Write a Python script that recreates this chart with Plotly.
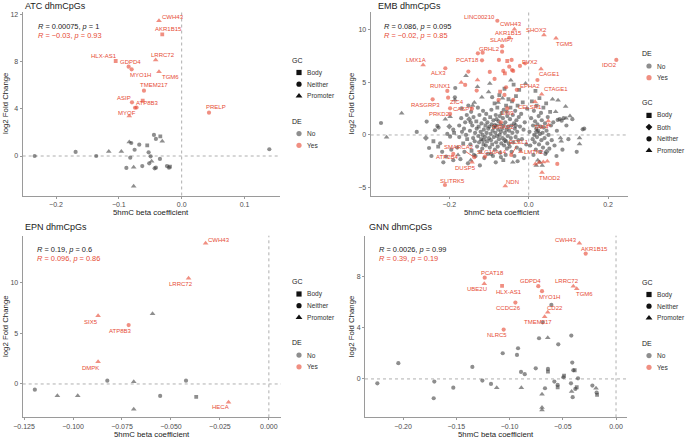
import plotly.graph_objects as go

W, H = 685, 438
FONT = "Liberation Sans, Arial, sans-serif"
RED_TXT = "#E64B35"
RED_PT = "rgba(230,75,53,0.62)"
GREY_PT = "rgba(60,60,60,0.58)"
SYMBOL = {"Body": "square", "Both": "diamond", "Neither": "circle", "Promoter": "triangle-up"}
SIZE = {"Body": 3.8, "Both": 4.6, "Neither": 4.2, "Promoter": 5.0}

# ------------------------------------------------------------------ data
# correlation texts (all DE / DE only)
ATC_R = ("<i>R</i> = 0.00075, <i>p</i> = 1", "<i>R</i> = \u22120.03, <i>p</i> = 0.93")
EMB_R = ("<i>R</i> = 0.086, <i>p</i> = 0.095", "<i>R</i> = \u22120.02, <i>p</i> = 0.85")
EPN_R = ("<i>R</i> = 0.19, <i>p</i> = 0.6", "<i>R</i> = 0.096, <i>p</i> = 0.86")
GNN_R = ("<i>R</i> = 0.0026, <i>p</i> = 0.99", "<i>R</i> = 0.39, <i>p</i> = 0.19")

# ---- ATC
ATC_YES_X = [-0.0361, -0.0309, -0.0414, -0.105, -0.0844, -0.0796, -0.0361, -0.060, -0.0791, -0.0742, -0.0834, 0.0435, -0.0718, -0.0620]
ATC_YES_Y = [11.44, 10.29, 8.11, 8.03, 7.55, 7.33, 7.13, 5.52, 4.54, 4.08, 3.38, 3.66, 4.10, 4.67]
ATC_YES_GC = ["Promoter", "Body", "Promoter", "Body", "Neither", "Neither", "Promoter", "Neither",
              "Neither", "Neither", "Promoter", "Neither", "Neither", "Body"]
ATC_YES_LABEL = ["CWH43", "AKR1B15", "LRRC72", "HLX-AS1", "GDPD4", "MYO1H", "TGM6", "TMEM217",
                 "ASIP", "ATP8B3", "MYOF", "PRELP", "", ""]
ATC_NO_NEITHER = [(-0.234, 0.0), (-0.1688, 0.34), (-0.136, 0.0), (-0.0802, 1.1), (-0.0749, 0.53),
                  (-0.0675, 0.96), (-0.0526, 0.31), (-0.0494, -0.03), (-0.0818, -0.14), (-0.088, -1.01),
                  (-0.0627, -0.85), (-0.0516, -0.62), (-0.043, -1.04), (-0.041, -0.99), (-0.0346, -0.25),
                  (-0.0234, -0.85), (-0.0202, -0.99), (-0.0441, 1.78), (-0.041, 1.44), (0.1395, 0.57)]
ATC_NO_BODY = [(-0.0548, 0.9), (-0.0186, -0.9), (-0.034, 1.66)]
ATC_NO_PROMOTER = [(-0.116, 0.37), (-0.096, 0.37), (-0.0834, 1.18), (-0.0764, -0.96), (-0.0478, -0.45),
                   (-0.0309, 1.24), (-0.0764, -2.56)]

# ---- EMB
EMB_YES_X = [-0.079, -0.036, -0.049, -0.067, 0.0385, 0.0688, -0.116, -0.1176, -0.022, 0.2207,
             -0.266, -0.21, 0.031, -0.205, -0.03, 0.0327, -0.242, -0.203, -0.143, 0.016,
             -0.198, -0.054, -0.07, 0.0494, -0.137, -0.19, -0.11, -0.1428, -0.044, -0.02,
             -0.211, -0.059, 0.0335,
             -0.128, -0.067, -0.075, -0.054, -0.043, -0.049, -0.064, -0.06, -0.042, -0.039,
             -0.086, -0.152, -0.16, -0.131, -0.072, -0.057, -0.061, -0.076, -0.039, -0.009,
             0.022, -0.198, 0.072, -0.098, -0.129, 0.05, 0.0166, 0.026, 0.0368, 0.0469, -0.17]
EMB_YES_Y = [10.87, 10.05, 9.25, 8.45, 9.51, 9.2, 7.83, 7.1, 6.57, 7.14,
             6.66, 6.35, 6.28, 4.19, 4.3, 3.87, 3.39, 3.55, 2.5, 3.17,
             2.0, 2.54, 1.2, 1.33, -2.12, -1.8, -2.06, -2.6, -1.9, -1.59,
             -4.76, -4.85, -3.58,
             7.77, 7.93, 7.14, 7.04, 7.14, 6.5, 6.09, 5.87, 6.18, 6.09,
             5.33, 6.03, 4.76, 4.22, 4.12, 4.54, 3.81, 3.33, 3.33, 6.82,
             5.23, 2.54, -2.76, 6.0, 5.23, 0.95, -2.76, -2.63, -2.57, -2.5, 5.0]
EMB_YES_GC = ["Neither", "Promoter", "Neither", "Neither", "Promoter", "Promoter", "Neither", "Neither", "Neither", "Neither",
              "Promoter", "Neither", "Promoter", "Neither", "Neither", "Promoter", "Neither", "Neither", "Neither", "Promoter",
              "Neither", "Neither", "Neither", "Promoter", "Neither", "Neither", "Neither", "Promoter", "Neither", "Promoter",
              "Neither", "Promoter", "Promoter",
              "Neither", "Neither", "Neither", "Body", "Neither", "Neither", "Neither", "Body", "Neither", "Neither",
              "Neither", "Neither", "Neither", "Neither", "Body", "Neither", "Neither", "Neither", "Neither", "Neither",
              "Neither", "Neither", "Neither", "Neither", "Promoter", "Promoter", "Promoter", "Promoter", "Promoter", "Promoter", "Promoter"]
EMB_YES_LABEL = ["LINC00210", "CWH43", "AKR1B15", "SLAMF7", "SHOX2", "TGM5", "GRHL2", "PCAT18", "EVX2", "IDO2",
                 "LMX1A", "ALX3", "CAGE1", "RUNX1", "EPHA2", "CTAGE1", "RASGRP3", "ZIC4", "CASP7", "CELSR1",
                 "PRKD2", "LIN9", "DIRAS2", "TAF4", "SMARCA2", "ATP2B4", "SLC16A14", "DUSP5", "ECEL1", "LMTK2",
                 "SLITRK5", "NDN", "TMOD2"] + [""] * 31
EMB_NO_NEITHER = [
    (-0.372, 1.14), (-0.282, 0.29), (-0.257, 1.27), (-0.251, -1.24), (-0.23, 0.86), (-0.227, 0.70),
    (-0.223, -0.79), (-0.215, -2.6), (-0.208, -2.06), (-0.205, 0.1), (-0.236, 0.45), (-0.218, -1.6),
    (-0.245, -2.0), (-0.185, 4.47), (-0.186, 3.58), (-0.198, -0.16), (-0.169, 2.54), (-0.156, 1.9),
    (-0.146, 1.2), (-0.19, 0.5), (-0.18, -1.2), (-0.175, 0.9), (-0.172, -2.3), (-0.168, 0.3),
    (-0.162, -1.6), (-0.16, 1.2), (-0.158, 0.0), (-0.153, -2.7), (-0.152, 2.8), (-0.195, -1.4),
    (-0.19, -2.4), (-0.17, 1.6), (-0.163, 0.6), (-0.175, -0.2),
    (-0.148, 0.4), (-0.147, -0.9), (-0.145, 2.2), (-0.142, 0.9), (-0.14, -0.3), (-0.139, 1.7),
    (-0.136, -0.6), (-0.135, 0.2), (-0.134, -2.0), (-0.131, 0.6), (-0.13, -1.1), (-0.128, 2.6),
    (-0.127, -0.1), (-0.125, -0.7), (-0.124, 1.9), (-0.122, -1.6), (-0.121, 0.3), (-0.119, 1.1),
    (-0.117, -1.3), (-0.116, 0.0), (-0.115, 2.3), (-0.113, 0.5), (-0.112, -2.2), (-0.111, 1.5),
    (-0.11, -0.2), (-0.108, -1.0), (-0.107, 2.0), (-0.106, 0.2), (-0.104, 1.2), (-0.103, -1.8),
    (-0.102, 0.6), (-0.1, -0.3), (-0.138, -1.9), (-0.123, -2.9),
    (-0.099, 0.8), (-0.098, -1.2), (-0.096, 0.1), (-0.095, -0.5), (-0.094, 2.4), (-0.093, 1.0),
    (-0.091, 0.4), (-0.09, -2.0), (-0.089, 1.4), (-0.088, -0.2), (-0.087, 0.7), (-0.085, -1.4),
    (-0.084, 0.2), (-0.083, 1.9), (-0.082, -0.7), (-0.081, 0.9), (-0.08, -0.1), (-0.078, -1.1),
    (-0.077, 0.5), (-0.076, 1.3), (-0.075, -0.4), (-0.073, 0.0), (-0.072, -1.7), (-0.071, 1.0),
    (-0.07, 0.3), (-0.069, -0.8), (-0.068, 2.1), (-0.067, 0.6), (-0.066, -0.3), (-0.065, 1.6),
    (-0.063, 0.9), (-0.062, -1.0), (-0.06, 0.2), (-0.059, 1.2), (-0.058, -0.6), (-0.056, 0.5),
    (-0.055, -1.3), (-0.054, 1.8), (-0.053, -0.1), (-0.052, 0.8), (-0.05, -0.8), (-0.092, 3.6),
    (-0.083, -2.6), (-0.07, -2.1), (-0.058, -1.9), (-0.095, -1.8), (-0.081, 1.5), (-0.073, 1.8),
    (-0.063, 2.4), (-0.055, 2.2),
    (-0.049, 0.4), (-0.048, -1.1), (-0.047, 1.5), (-0.045, -0.3), (-0.044, 0.9), (-0.043, -1.6),
    (-0.041, 0.2), (-0.04, 1.9), (-0.039, -0.7), (-0.037, 1.1), (-0.036, -2.0), (-0.035, 0.6),
    (-0.034, 2.3), (-0.033, -0.2), (-0.031, 1.4), (-0.03, -1.2), (-0.029, 0.3), (-0.026, -0.5),
    (-0.025, 1.7), (-0.022, 0.8), (-0.021, -1.4), (-0.019, 2.0), (-0.017, -0.4), (-0.013, 0.5),
    (-0.012, -2.2), (-0.01, 1.2), (-0.006, -0.9), (-0.004, 2.5), (-0.028, -2.5),
    (0.002, 0.3), (0.004, -1.0), (0.006, 1.6), (0.01, -0.4), (0.011, 0.9), (0.012, -1.9),
    (0.013, 2.3), (0.014, 0.0), (0.015, -0.7), (0.016, 1.3), (0.018, -1.4), (0.019, 0.6),
    (0.021, -0.2), (0.022, 1.0), (0.024, 0.4), (0.025, 1.8), (0.026, -0.9), (0.028, 0.1),
    (0.029, -1.6), (0.03, 0.8), (0.031, 2.1), (0.032, -0.5), (0.033, 1.4), (0.035, 0.2),
    (0.036, -1.2), (0.038, 0.7), (0.04, -0.3), (0.041, 1.1), (0.042, -1.8), (0.045, 0.4),
    (0.047, -0.8), (0.048, 1.7), (0.05, 0.0), (0.052, -1.3), (0.056, 0.9), (0.058, -0.5),
    (0.062, 1.2), (0.065, -1.0), (0.071, 0.4), (0.078, 1.5), (0.088, 1.6), (0.095, 0.9),
    (0.1, -0.4), (0.11, 1.5), (0.121, -1.6), (0.14, 0.6), (0.07, -2.0), (0.085, -1.4),
    (0.073, 1.43), (0.083, 1.36), (0.136, 0.54)]
EMB_NO_BODY = [(-0.24, -0.6), (-0.228, -1.1), (-0.165, -0.8), (-0.155, -0.4), (-0.188, 0.2), (-0.144, -1.5),
               (-0.132, 1.3), (-0.126, 0.8), (-0.12, -0.4), (-0.114, -0.9), (-0.109, 0.9), (-0.105, -0.6),
               (-0.097, 1.7), (-0.092, -0.9), (-0.086, 3.0), (-0.079, 2.6), (-0.074, 3.8), (-0.064, -2.4),
               (-0.057, 2.8), (-0.051, 3.4), (-0.046, 2.6), (-0.042, 3.2), (-0.038, 4.8), (-0.032, 3.7),
               (-0.028, 2.8), (-0.024, 4.3), (-0.015, 3.1), (0.008, 3.2), (0.02, 2.8), (0.027, 3.5),
               (0.037, 2.6), (0.044, 3.0), (0.054, 2.2), (0.017, 4.2), (-0.061, 4.4)]
EMB_NO_PROMOTER = [(-0.358, -0.22), (-0.32, 2.06), (-0.21, 1.5), (-0.198, 1.74), (-0.186, 3.33), (-0.158, 5.64),
                   (-0.178, -1.9), (-0.146, -2.4), (-0.129, 4.6), (-0.118, 3.6), (-0.101, 4.1), (-0.098, 4.9),
                   (-0.077, 3.1), (-0.066, 3.5), (-0.045, 5.2), (-0.008, 4.9), (0.034, -2.9), (0.06, 3.4),
                   (0.019, -2.9), (0.028, -2.6), (0.068, 2.2), (0.074, 3.3), (0.082, -0.6), (0.104, 1.8),
                   (0.128, -0.3), (0.093, 2.7), (0.023, -2.4), (-0.141, 2.8), (-0.137, 3.1), (-0.04, -2.6),
                   (0.094, 1.59), (0.08, -0.3), (0.128, -0.86)]
EMB_NO_BOTH = [(-0.259, -0.29), (-0.15, 1.5), (-0.115, -0.5), (-0.085, 0.9), (-0.06, -0.5), (-0.033, 0.9),
               (0.02, 0.3), (0.045, -1.6), (-0.2, 0.8)]

# ---- EPN
EPN_YES_X = [-0.0323, -0.041, -0.0872, -0.0716, -0.0872, -0.0206]
EPN_YES_Y = [13.89, 10.43, 6.74, 5.82, 2.2, -1.81]
EPN_YES_GC = ["Promoter", "Promoter", "Promoter", "Neither", "Promoter", "Promoter"]
EPN_YES_LABEL = ["CWH43", "LRRC72", "SIX5", "ATP8B3", "DMPK", "HECA"]
EPN_NO_NEITHER = [(-0.1195, -0.56), (-0.0825, 0.33), (-0.0555, -1.18), (-0.0423, 0.33)]
EPN_NO_BODY = [(-0.0371, -1.28)]
EPN_NO_PROMOTER = [(-0.108, -1.15), (-0.0976, -1.15), (-0.069, 0.23), (-0.069, -2.5), (-0.0594, 6.94)]

# ---- GNN
GNN_YES_X = [-0.0344, -0.0285, -0.1233, -0.1237, -0.107, -0.073, -0.0695, -0.0401, -0.0369, -0.0945, -0.0641, -0.067, -0.1055]
GNN_YES_Y = [10.61, 9.8, 7.92, 7.45, 7.27, 7.25, 6.86, 7.25, 7.06, 5.97, 5.21, 4.87, 3.86]
GNN_YES_GC = ["Promoter", "Neither", "Neither", "Promoter", "Body", "Neither", "Neither", "Promoter", "Promoter",
              "Neither", "Promoter", "Promoter", "Neither"]
GNN_YES_LABEL = ["CWH43", "AKR1B15", "PCAT18", "UBE2U", "HLX-AS1", "GDPD4", "MYO1H", "LRRC72", "TGM6",
                 "CCDC26", "CD22", "TMEM217", "NLRC5"]
GNN_NO_NEITHER = [(-0.2241, -0.34), (-0.2044, 1.23), (-0.1706, -0.21), (-0.1712, -1.51), (-0.1528, -0.68),
                  (-0.1349, 0.94), (-0.1255, -0.13), (-0.1174, -0.39), (-0.1064, 2.01), (-0.093, 1.88),
                  (-0.092, 2.4), (-0.0892, 0.55), (-0.0857, 0.37), (-0.0754, 0.83), (-0.0723, 3.18),
                  (-0.0667, -0.73), (-0.0639, 0.78), (-0.0607, 5.79), (-0.0579, -0.21), (-0.0548, -0.47),
                  (-0.0542, 2.71), (-0.0495, 0.13), (-0.0423, -0.34), (-0.042, 3.39), (-0.0411, 1.28),
                  (-0.0407, -1.43), (-0.0401, 0.68), (-0.0382, -0.78), (-0.0357, 0.05), (-0.0222, -0.52),
                  (-0.0182, -1.07), (-0.0689, 4.43)]
GNN_NO_BODY = [(-0.0639, 0.57), (-0.0548, -0.65), (-0.0488, 0.25), (-0.0388, 0.68), (-0.0369, -0.65), (-0.0178, -1.25)]
GNN_NO_PROMOTER = [(-0.112, -0.68), (-0.0889, -0.68), (-0.0695, -1.2), (-0.0695, -2.24), (-0.0695, -2.42),
                   (-0.0641, 3.23), (-0.0417, -0.99), (-0.0188, -0.73)]

# legend levels
DE_LEVELS = ["No", "Yes"]
GC_LEVELS_3 = ["Body", "Neither", "Promoter"]
GC_LEVELS_4 = ["Body", "Both", "Neither", "Promoter"]

# ------------------------------------------------------------------ layout (pixel geometry)
PANELS = [
    dict(name="ATC dhmCpGs", ax="", dom_x=(22.7, 280), dom_y=(11.7, 195.5), xr=(-0.253, 0.1565), yr=(-3.34, 12.2),
         xtick=[-0.2, -0.1, 0.0, 0.1], xfmt=".1f", ytick=[0, 4, 8, 12],
         yes=(ATC_YES_X, ATC_YES_Y, ATC_YES_GC, ATC_YES_LABEL),
         no={"Neither": ATC_NO_NEITHER, "Body": ATC_NO_BODY, "Promoter": ATC_NO_PROMOTER},
         corr=ATC_R, title_xy=(22.7, 5.5), corr_xy=(36, 26.7), xt_xy=(151.4, 212.3), yt_xy=(5.5, 103.6),
         legend=dict(x=290, y=60, groups=[("GC", GC_LEVELS_3), ("DE", DE_LEVELS)])),
    dict(name="EMB dhmCpGs", ax="2", dom_x=(370.7, 628.3), dom_y=(11.7, 195.5), xr=(-0.398, 0.2509), yr=(-5.76, 11.73),
         xtick=[-0.4, -0.2, 0.0, 0.2], xfmt=".1f", ytick=[-5, 0, 5, 10],
         yes=(EMB_YES_X, EMB_YES_Y, EMB_YES_GC, EMB_YES_LABEL),
         no={"Neither": EMB_NO_NEITHER, "Body": EMB_NO_BODY, "Promoter": EMB_NO_PROMOTER, "Both": EMB_NO_BOTH},
         corr=EMB_R, title_xy=(376, 5.5), corr_xy=(381.7, 26.7), xt_xy=(502, 212.3), yt_xy=(351.7, 103.6),
         legend=dict(x=640, y=53.5, groups=[("DE", DE_LEVELS), ("GC", GC_LEVELS_4)])),
    dict(name="EPN dhmCpGs", ax="3", dom_x=(22.7, 281), dom_y=(235.7, 417.3), xr=(-0.1257, 0.0062), yr=(-3.29, 14.64),
         xtick=[-0.125, -0.1, -0.075, -0.05, -0.025, 0.0], xfmt=".3f", ytick=[0, 5, 10],
         yes=(EPN_YES_X, EPN_YES_Y, EPN_YES_GC, EPN_YES_LABEL),
         no={"Neither": EPN_NO_NEITHER, "Body": EPN_NO_BODY, "Promoter": EPN_NO_PROMOTER},
         corr=EPN_R, title_xy=(22.7, 227.3), corr_xy=(35, 249), xt_xy=(152, 434.4), yt_xy=(5.5, 326.5),
         legend=dict(x=290, y=281.5, groups=[("GC", GC_LEVELS_3), ("DE", DE_LEVELS)])),
    dict(name="GNN dhmCpGs", ax="4", dom_x=(365, 627), dom_y=(235.7, 417.3), xr=(-0.2357, 0.0103), yr=(-3.0, 11.2),
         xtick=[-0.2, -0.15, -0.1, -0.05, 0.0], xfmt=".2f", ytick=[0, 4, 8],
         yes=(GNN_YES_X, GNN_YES_Y, GNN_YES_GC, GNN_YES_LABEL),
         no={"Neither": GNN_NO_NEITHER, "Body": GNN_NO_BODY, "Promoter": GNN_NO_PROMOTER},
         corr=GNN_R, title_xy=(366.7, 227.3), corr_xy=(377.3, 249), xt_xy=(496, 434.4), yt_xy=(351.7, 326.5),
         legend=dict(x=640, y=282, groups=[("GC", GC_LEVELS_3), ("DE", DE_LEVELS)])),
]

# label offsets in pixels (label centre minus point), dx right, dy down; third item -> draw segment
LABEL_SHIFT = {
    "ATC dhmCpGs": {"CWH43": (13.7, -4), "AKR1B15": (6.7, -5), "LRRC72": (7, -5), "HLX-AS1": (-12, -5.3),
                    "GDPD4": (2, -5), "MYO1H": (9, 5.7), "TGM6": (11.7, 5), "TMEM217": (9.8, -5.4),
                    "ASIP": (-7.8, -4.6), "ATP8B3": (12, -5), "MYOF": (-2, -3.3), "PRELP": (7.3, -5.4)},
    "EMB dhmCpGs": {"LINC00210": (-18, -4), "CWH43": (-3, -5.5), "AKR1B15": (-1, -4.5), "SLAMF7": (0, -6),
                    "SHOX2": (-7.3, -4.7), "TGM5": (8.3, 5.4), "GRHL2": (6.4, -3.7), "PCAT18": (-14.3, 0),
                    "EVX2": (10.5, -4.3), "IDO2": (-7, 5.3), "LMX1A": (-7, -4.7), "ALX3": (-7.3, 4.7),
                    "CAGE1": (8, 5), "RUNX1": (-7.3, -4.7), "EPHA2": (13, -3.5), "CTAGE1": (14, -5),
                    "RASGRP3": (-7.3, 5.9), "ZIC4": (8.7, 4.6), "CASP7": (-9, 0.5), "CELSR1": (-5, 5.3),
                    "PRKD2": (-10.3, 0), "LIN9": (0, 5), "DIRAS2": (1.6, 4.3), "TAF4": (-7, 5.7),
                    "SMARCA2": (-15, -10, True), "ATP2B4": (-6, 3), "SLC16A14": (6.7, -5), "DUSP5": (-7, 5.5),
                    "ECEL1": (8, -13, True), "LMTK2": (13.5, 0), "SLITRK5": (7.7, -4.3), "NDN": (7.3, -4.3),
                    "TMOD2": (8, 5.7)},
    "EPN dhmCpGs": {"CWH43": (13.6, -3.3), "LRRC72": (-7.7, 6), "SIX5": (-7.3, 6), "ATP8B3": (-7.7, 5.7),
                    "DMPK": (-7.3, 6), "HECA": (-8, 5)},
    "GNN dhmCpGs": {"CWH43": (-13.3, -3.3), "AKR1B15": (9.3, -5), "PCAT18": (7.6, -5), "UBE2U": (-7.6, 5.3),
                    "HLX-AS1": (7.3, 5.7), "GDPD4": (-7.6, -5.3), "MYO1H": (7.3, 5.4), "LRRC72": (-6.6, -5.3),
                    "TGM6": (7.6, 5.6), "CCDC26": (-7, 5.6), "CD22": (7.3, -4.6), "TMEM217": (-7, 5),
                    "NLRC5": (-7, 5.3)},
}

# ------------------------------------------------------------------ build
fig = go.Figure()
annotations = []
shapes = []
layout_axes = {}


def paper(px, py):
    return px / W, 1 - py / H


for p in PANELS:
    xa, ya = "x" + p["ax"], "y" + p["ax"]
    # grey (DE = No) points
    for gc, pts in p["no"].items():
        fig.add_trace(go.Scatter(
            x=[q[0] for q in pts], y=[q[1] for q in pts], mode="markers", xaxis=xa, yaxis=ya,
            marker=dict(symbol=SYMBOL[gc], size=SIZE[gc], color=GREY_PT, line=dict(width=0)),
            showlegend=False, hoverinfo="skip"))
    # red (DE = Yes) points
    xs, ys, gcs, labs = p["yes"]
    for gc in ["Body", "Both", "Neither", "Promoter"]:
        idx = [i for i, g in enumerate(gcs) if g == gc]
        if not idx:
            continue
        fig.add_trace(go.Scatter(
            x=[xs[i] for i in idx], y=[ys[i] for i in idx], mode="markers", xaxis=xa, yaxis=ya,
            marker=dict(symbol=SYMBOL[gc], size=SIZE[gc], color=RED_PT, line=dict(width=0)),
            showlegend=False, hoverinfo="skip"))
    # gene labels
    shifts = LABEL_SHIFT[p["name"]]
    for xv, yv, lab in zip(xs, ys, labs):
        if not lab:
            continue
        s = shifts[lab]
        if len(s) == 3:
            annotations.append(dict(x=xv, y=yv, xref=xa, yref=ya, text=lab, showarrow=True,
                                    ax=s[0], ay=s[1], arrowhead=0, arrowwidth=0.8, arrowcolor=RED_TXT,
                                    standoff=1.5, font=dict(size=6, color=RED_TXT, family=FONT)))
        else:
            annotations.append(dict(x=xv, y=yv, xref=xa, yref=ya, text=lab, showarrow=False,
                                    xshift=s[0], yshift=-s[1], font=dict(size=6, color=RED_TXT, family=FONT)))
    # axes
    x0, x1 = p["dom_x"]
    y0, y1 = p["dom_y"]
    axis_common = dict(showline=True, linecolor="#9a9a9a", linewidth=1.1, ticks="outside", ticklen=2,
                       tickwidth=0.8, tickcolor="#9a9a9a", showgrid=False, zeroline=False, automargin=False,
                       tickfont=dict(size=7, color="#4d4d4d", family=FONT), fixedrange=True)
    layout_axes["xaxis" + p["ax"]] = dict(axis_common, domain=[x0 / W, x1 / W], range=list(p["xr"]),
                                          anchor=ya, tickvals=p["xtick"], tickformat=p["xfmt"])
    layout_axes["yaxis" + p["ax"]] = dict(axis_common, domain=[1 - y1 / H, 1 - y0 / H], range=list(p["yr"]),
                                          anchor=xa, tickvals=p["ytick"])
    # dashed reference lines
    shapes.append(dict(type="line", xref=xa, yref=ya + " domain", x0=0, x1=0, y0=0, y1=1,
                       line=dict(color="#9a9a9a", width=0.8, dash="3px,3px"), layer="below"))
    shapes.append(dict(type="line", xref=xa + " domain", yref=ya, x0=0, x1=1, y0=0, y1=0,
                       line=dict(color="#9a9a9a", width=0.8, dash="3px,3px"), layer="below"))
    # titles and texts
    tx, ty = paper(*p["title_xy"])
    annotations.append(dict(x=tx, y=ty, xref="paper", yref="paper", text=p["name"], showarrow=False,
                            xanchor="left", yanchor="middle", font=dict(size=9, color="#1a1a1a", family=FONT)))
    cx, cy = p["corr_xy"]
    for k, (txt, col) in enumerate(zip(p["corr"], ["#1a1a1a", RED_TXT])):
        px_, py_ = paper(cx, cy + 9.2 * k)
        annotations.append(dict(x=px_, y=py_, xref="paper", yref="paper", text=txt, showarrow=False,
                                xanchor="left", yanchor="middle", font=dict(size=7.4, color=col, family=FONT)))
    ax_, ay_ = paper(*p["xt_xy"])
    annotations.append(dict(x=ax_, y=ay_, xref="paper", yref="paper", text="5hmC beta coefficient",
                            showarrow=False, xanchor="center", yanchor="middle",
                            font=dict(size=7.8, color="#1a1a1a", family=FONT)))
    ax_, ay_ = paper(*p["yt_xy"])
    annotations.append(dict(x=ax_, y=ay_, xref="paper", yref="paper", text="log2 Fold Change",
                            showarrow=False, xanchor="center", yanchor="middle", textangle=-90,
                            font=dict(size=7.8, color="#1a1a1a", family=FONT)))
    # manual legend (drawn on a full-page pixel axis)
    lg = p["legend"]
    yy = lg["y"]
    for gi, (gtitle, levels) in enumerate(lg["groups"]):
        annotations.append(dict(x=lg["x"], y=yy, xref="x5", yref="y5", text=gtitle, showarrow=False,
                                xanchor="left", yanchor="middle", font=dict(size=7, color="#1a1a1a", family=FONT)))
        yy += 12.5
        for lev in levels:
            if gtitle == "GC":
                sym, col, sz = SYMBOL[lev], "#111111", 5.2 if lev != "Promoter" else 6
            else:
                sym, col, sz = "circle", GREY_PT if lev == "No" else RED_PT, 5.2
            fig.add_trace(go.Scatter(x=[lg["x"] + 9], y=[yy], mode="markers", xaxis="x5", yaxis="y5",
                                     marker=dict(symbol=sym, size=sz, color=col, line=dict(width=0)),
                                     showlegend=False, hoverinfo="skip"))
            annotations.append(dict(x=lg["x"] + 15, y=yy, xref="x5", yref="y5", text=lev, showarrow=False,
                                    xanchor="left", yanchor="middle",
                                    font=dict(size=6.6, color="#333333", family=FONT)))
            yy += 11.7
        yy += 13.5

layout_axes["xaxis5"] = dict(domain=[0, 1], range=[0, W], visible=False, anchor="y5", fixedrange=True,
                             automargin=False)
layout_axes["yaxis5"] = dict(domain=[0, 1], range=[H, 0], visible=False, anchor="x5", fixedrange=True,
                             automargin=False)

fig.update_layout(
    width=W, height=H, margin=dict(l=0, r=0, t=0, b=0, autoexpand=False),
    paper_bgcolor="white", plot_bgcolor="rgba(0,0,0,0)",
    showlegend=False, font=dict(family=FONT),
    annotations=annotations, shapes=shapes, **layout_axes)

fig.write_html("out.html", config={"displayModeBar": False},
               post_script="document.body.style.margin='0px';document.body.style.overflow='hidden';")
